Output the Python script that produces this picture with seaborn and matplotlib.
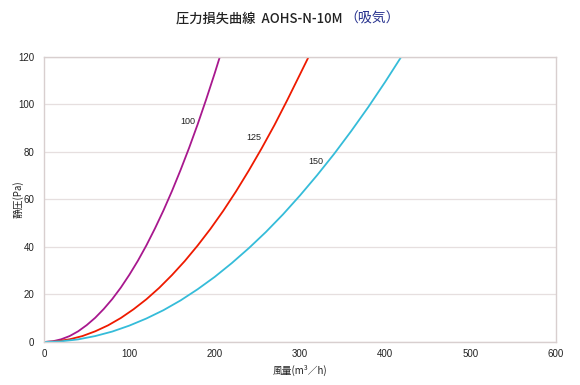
import pandas as pd
import matplotlib.pyplot as plt
import seaborn as sns

# curve values (airflow m3/h -> static pressure Pa)
flow_100 = [0, 10, 20, 30, 40, 50, 60, 70, 80, 90, 100, 110, 120, 130, 140, 150, 160, 170, 180, 190, 200, 206]
pres_100 = [0, 0.28, 1.13, 2.5, 4.5, 7.1, 10.2, 13.9, 18.1, 22.9, 28.3, 34.2, 40.7, 47.8, 55.4, 63.6, 72.4, 81.7, 91.6, 102.1, 113.1, 120]

flow_125 = [0, 15, 30, 45, 60, 75, 90, 105, 120, 135, 150, 165, 180, 195, 210, 225, 240, 255, 270, 285, 300, 310]
pres_125 = [0, 0.28, 1.13, 2.5, 4.5, 7.0, 10.1, 13.8, 18.0, 22.8, 28.2, 34.1, 40.6, 47.6, 55.2, 63.4, 72.2, 81.5, 91.3, 101.8, 112.7, 120]

flow_150 = [0, 20, 40, 60, 80, 100, 120, 140, 160, 180, 200, 220, 240, 260, 280, 300, 320, 340, 360, 380, 400, 418]
pres_150 = [0, 0.27, 1.1, 2.5, 4.4, 6.9, 9.9, 13.4, 17.5, 22.2, 27.4, 33.2, 39.5, 46.3, 53.7, 61.7, 70.2, 79.2, 88.8, 98.9, 109.6, 119.7]

series = ["100", "125", "150"]
colors = ["#a8188e", "#ee1a00", "#35bcd9"]
label_x = [168, 246, 318]
label_y = [93, 86, 76]

x_ticks = [0, 100, 200, 300, 400, 500, 600]
y_ticks = [0, 20, 40, 60, 80, 100, 120]

df = pd.concat([
    pd.DataFrame({"flow": flow_100, "pres": pres_100, "size": "100"}),
    pd.DataFrame({"flow": flow_125, "pres": pres_125, "size": "125"}),
    pd.DataFrame({"flow": flow_150, "pres": pres_150, "size": "150"}),
])

sns.set_theme(style="white")
plt.rcParams['font.family'] = ['Noto Sans CJK JP', 'DejaVu Sans']
num_font = ['Liberation Sans', 'DejaVu Sans']

fig = plt.figure(figsize=(5.8, 3.85), dpi=100)
ax = fig.add_axes([0.0759, 0.1117, 0.8827, 0.7403])

sns.lineplot(data=df, x="flow", y="pres", hue="size", palette=dict(zip(series, colors)),
             linewidth=1.3, legend=False, ax=ax, sort=False)

for s, lx, ly in zip(series, label_x, label_y):
    ax.text(lx, ly, s, fontsize=6.5, color="#222222", ha="center", va="center", family=num_font)

ax.set_xlim(0, 600)
ax.set_ylim(0, 120)
ax.set_xticks(x_ticks)
ax.set_yticks(y_ticks)
ax.tick_params(axis="both", labelsize=7, colors="#222222", length=3, width=0.6)
ax.tick_params(axis="x", direction="in", color="#d8cfcf", pad=5)
ax.tick_params(axis="y", direction="out", color="#d8cfcf", pad=4)
for lab in ax.get_xticklabels() + ax.get_yticklabels():
    lab.set_family(num_font)
ax.yaxis.grid(True, color="#e6dfdf", linewidth=0.9)
ax.set_axisbelow(True)
for sp in ax.spines.values():
    sp.set_color("#d8cfcf")
    sp.set_linewidth(1.0)

ax.set_xlabel("風量(m³／h)", fontsize=7, color="#222222", labelpad=4)
ax.set_ylabel("静圧(Pa)", fontsize=7, color="#222222")
ax.yaxis.set_label_coords(-0.04, 0.5)

fig.text(0.59, 0.953, "圧力損失曲線  AOHS-N-10M", fontsize=9.5, color="#222222",
         ha="right", va="center", fontweight="medium")
fig.text(0.594, 0.953, "（吸気）", fontsize=10, color="#2a3590", ha="left", va="center")

fig.savefig("out.png", dpi=100)
